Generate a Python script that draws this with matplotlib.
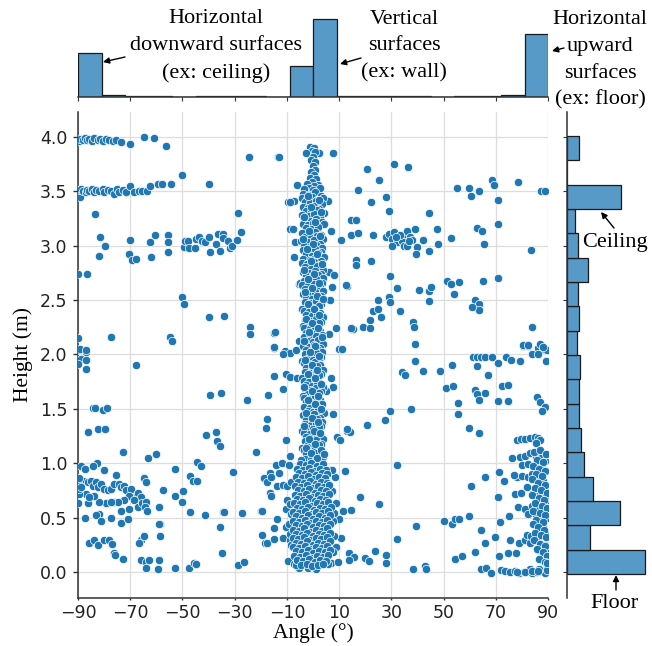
import numpy as np
import matplotlib
matplotlib.use('Agg')
import matplotlib.pyplot as plt

W, H = 652, 646
SERIF = 'Liberation Serif'
POINT_COLOR = '#1f77b4'
BAR_COLOR = '#5799c7'

# Marginal histograms, bar counts
angle_range = (-90, 90)
angle_counts = [868, 46, 20, 10, 8, 10, 12, 14, 6, 614,
                1554, 10, 12, 14, 10, 8, 10, 14, 34, 1254]
height_range = (-0.02, 4.01)
# bottom bin first
height_counts = [952, 278, 649, 315, 208, 175, 143, 147, 163,
                 122, 151, 135, 254, 135, 94, 653, 6, 151]

# Scatter points (angle in deg, height in m), grouped by region of the plot
ceiling_4m = [(-89.8, 3.96), (-89.4, 3.98), (-88.2, 3.97), (-87.5, 3.99), (-86.4, 3.97),
              (-85.6, 3.98), (-84.5, 3.96), (-83.7, 3.99), (-82.4, 3.97), (-81.5, 3.98),
              (-80.5, 3.96), (-79.2, 3.98), (-78.0, 3.97), (-76.7, 3.96), (-75.4, 3.97),
              (-73.5, 3.95), (-70.0, 3.94), (-64.9, 4.00), (-60.9, 3.99), (-56.2, 3.92)]

ceiling_35m = [(-89.7, 3.49), (-89.4, 3.45), (-89.4, 3.51), (-88.7, 3.52), (-87.9, 3.50),
               (-87.0, 3.49), (-86.4, 3.51), (-85.6, 3.50), (-84.5, 3.52), (-83.7, 3.49),
               (-83.0, 3.51), (-81.8, 3.50), (-80.5, 3.52), (-79.9, 3.49), (-78.6, 3.51),
               (-77.3, 3.50), (-76.1, 3.48), (-75.0, 3.52), (-74.2, 3.49), (-72.9, 3.51),
               (-71.6, 3.49), (-70.0, 3.55), (-68.5, 3.49), (-66.5, 3.50), (-65.3, 3.50),
               (-63.7, 3.50), (-62.4, 3.55), (-59.4, 3.57), (-57.7, 3.57), (-54.3, 3.57),
               (-50.1, 3.65), (-40.0, 3.57)]

upper_left = [(-83.4, 3.29), (-81.4, 3.08), (-81.8, 2.91), (-79.5, 3.00), (-70.0, 3.05),
              (-70.4, 2.92), (-69.5, 2.87), (-67.8, 2.88), (-62.4, 3.03), (-60.6, 3.10),
              (-62.2, 2.90), (-55.4, 3.10), (-55.4, 3.03), (-55.4, 2.94),
              (-49.5, 2.99), (-48.9, 3.04), (-48.0, 3.04), (-47.6, 2.98), (-45.1, 2.98),
              (-44.7, 3.06), (-43.8, 3.08), (-42.6, 3.04), (-41.3, 3.03), (-40.0, 3.08),
              (-39.4, 2.94), (-37.2, 3.02), (-36.5, 3.11), (-35.8, 2.95), (-34.6, 3.11),
              (-34.3, 3.07), (-32.4, 3.04), (-31.8, 2.98), (-31.0, 3.00), (-29.2, 3.05),
              (-28.6, 3.30), (-27.7, 3.13),
              (-89.9, 2.74), (-86.6, 2.74), (-50.1, 2.53), (-49.5, 2.46), (-40.0, 2.34),
              (-33.9, 2.35), (-77.3, 2.16), (-54.9, 2.16), (-53.9, 2.12), (-24.2, 2.25),
              (-24.2, 2.19), (-14.9, 2.20), (-14.9, 2.06), (-24.4, 3.82), (-13.4, 3.82),
              (-89.9, 2.15), (-89.9, 2.04), (-86.8, 2.02), (-88.7, 1.96),
              (-9.4, 3.40), (-7.1, 3.41), (-6.1, 3.56), (-8.8, 3.15), (-7.0, 3.03),
              (-7.1, 2.90), (-5.2, 2.65), (-5.4, 2.12), (-10.9, 2.03), (-9.0, 2.01),
              (-6.5, 2.04), (-13.0, 3.82), (-9.0, 3.40), (-7.5, 3.15), (-5.0, 2.66),
              (-14.5, 2.21), (-15.0, 2.07)]

mid_left = [(-89.4, 2.05), (-86.8, 2.04), (-86.8, 1.95), (-86.8, 1.87), (-89.9, 1.91),
            (-67.8, 1.90), (-84.3, 1.51), (-83.4, 1.51), (-80.3, 1.49), (-79.0, 1.51),
            (-86.2, 1.29), (-82.2, 1.31), (-79.5, 1.31), (-72.7, 1.10), (-63.2, 1.05),
            (-60.0, 1.08), (-41.0, 1.26), (-37.2, 1.29), (-36.8, 1.20), (-35.8, 1.16),
            (-39.4, 1.63), (-35.3, 1.65), (-25.4, 1.58), (-21.9, 1.10),
            (-11.4, 2.00), (-14.9, 1.80), (-10.3, 1.82), (-8.7, 1.79), (-6.2, 1.78),
            (-11.6, 1.68), (-17.2, 1.63), (-17.6, 1.41), (-18.1, 1.32), (-10.3, 1.21),
            (-9.0, 1.07), (-44.4, 1.01), (-42.8, 0.97)]

low_left = [(-88.7, 0.97), (-87.5, 0.95), (-88.1, 0.84), (-86.2, 0.83), (-84.9, 0.84),
            (-84.3, 0.79), (-83.0, 0.83), (-82.4, 0.78), (-81.1, 0.81), (-79.9, 0.76),
            (-78.6, 0.75), (-77.3, 0.76), (-76.1, 0.81), (-74.2, 0.81), (-73.5, 0.78),
            (-72.3, 0.79), (-71.6, 0.75), (-69.7, 0.76), (-67.8, 0.70), (-67.2, 0.73),
            (-65.9, 0.69), (-70.4, 0.70), (-72.3, 0.66), (-76.1, 0.64), (-79.2, 0.63),
            (-81.8, 0.64), (-83.7, 0.70), (-86.2, 0.63), (-89.9, 0.63), (-86.8, 0.72),
            (-85.6, 0.69), (-82.7, 1.00), (-84.3, 0.97), (-79.9, 0.94), (-75.4, 0.89),
            (-68.5, 0.66), (-67.2, 0.60), (-65.3, 0.63), (-64.1, 0.64), (-64.4, 0.60),
            (-63.4, 0.56), (-70.4, 0.58), (-73.5, 0.56), (-74.8, 0.64), (-77.3, 0.64),
            (-81.8, 0.53), (-83.0, 0.52), (-81.1, 0.47), (-87.5, 0.50), (-77.3, 0.50),
            (-73.5, 0.45), (-71.0, 0.49), (-64.7, 0.86), (-64.1, 0.83),
            (-89.8, 0.80), (-89.6, 0.72), (-89.5, 0.86), (-89.7, 0.76), (-88.9, 0.78),
            (-85.6, 0.27), (-83.7, 0.29), (-82.4, 0.25), (-80.1, 0.29), (-78.2, 0.29),
            (-77.1, 0.26), (-76.1, 0.17), (-75.9, 0.16), (-72.7, 0.12), (-65.9, 0.29),
            (-66.5, 0.27), (-64.9, 0.33), (-58.6, 0.33), (-58.6, 0.44), (-65.9, 0.11),
            (-64.1, 0.09), (-64.1, 0.04), (-62.8, 0.11), (-59.0, 0.11), (-59.4, 0.03),
            (-52.7, 0.04), (-47.3, 0.04), (-45.4, 0.08), (-44.7, 0.07), (-34.9, 0.17),
            (-35.6, 0.41), (-34.6, 0.55), (-34.0, 0.55), (-41.3, 0.52), (-47.2, 0.55),
            (-50.1, 0.64), (-49.9, 0.74), (-53.0, 0.70), (-53.0, 0.95), (-57.3, 0.75),
            (-59.0, 0.60), (-59.0, 0.44), (-47.2, 0.88), (-46.0, 0.84), (-44.4, 0.84),
            (-30.8, 0.92), (-27.1, 0.54), (-28.6, 0.06), (-26.5, 0.09), (-20.1, 0.56),
            (-19.4, 0.56), (-18.2, 0.27), (-19.4, 0.34),
            (-14.1, 0.98), (-16.6, 0.91), (-18.7, 0.86), (-17.8, 0.83), (-15.9, 0.87),
            (-13.0, 0.91), (-13.9, 0.79), (-11.5, 0.80), (-9.9, 0.79), (-16.6, 0.73),
            (-15.9, 0.70), (-9.9, 0.66), (-10.3, 0.58), (-8.4, 0.53), (-13.8, 0.49),
            (-17.8, 0.27), (-14.8, 0.40), (-15.0, 0.30), (-11.5, 0.31), (-9.0, 0.29),
            (-9.6, 0.10), (-7.1, 0.07), (-5.2, 0.04), (-10.3, 0.41), (-9.0, 0.35),
            (-11.9, 1.00), (-9.2, 0.98)]

upper_right = [(7.5, 3.85), (2.4, 3.85), (20.8, 3.71), (30.9, 3.75), (36.2, 3.72),
               (25.3, 3.60), (17.4, 3.51), (55.3, 3.53), (59.6, 3.53), (60.5, 3.46),
               (63.6, 3.50), (68.7, 3.60), (69.5, 3.56), (78.4, 3.59), (87.4, 3.50),
               (88.9, 3.50), (71.0, 3.42), (28.0, 3.45), (22.1, 3.40), (29.1, 3.32),
               (44.4, 3.30), (14.5, 3.24), (16.6, 3.24), (14.5, 3.10), (17.4, 3.12),
               (23.0, 3.10), (10.6, 3.05),
               (28.1, 3.08), (29.1, 3.11), (30.1, 3.06), (31.0, 3.13), (32.3, 3.03),
               (32.9, 3.09), (34.2, 3.04), (35.2, 3.11), (36.1, 3.14), (37.0, 3.08),
               (38.0, 3.05), (39.0, 3.15), (39.9, 2.99), (34.8, 3.00), (36.1, 3.00),
               (30.1, 3.00), (39.5, 2.92), (33.5, 3.10), (31.6, 3.08), (36.8, 3.04),
               (42.2, 3.05), (44.4, 2.95), (47.3, 3.15), (47.9, 3.02), (53.0, 3.07),
               (62.8, 3.16), (64.7, 3.14), (65.6, 3.02), (70.7, 3.20), (83.4, 2.96),
               (16.6, 2.87), (16.6, 2.82), (22.1, 2.86), (29.5, 2.72), (32.0, 2.61),
               (29.1, 2.53), (29.5, 2.48), (24.9, 2.50), (23.0, 2.40), (25.0, 2.42),
               (26.0, 2.34), (21.7, 2.32), (19.3, 2.25), (21.7, 2.24), (14.5, 2.23),
               (15.3, 2.23), (12.9, 2.63), (10.9, 2.04), (33.2, 2.40), (38.4, 2.30),
               (38.8, 2.25), (39.0, 2.10), (40.5, 2.59), (44.4, 2.58), (45.0, 2.62),
               (44.6, 2.49), (51.3, 2.68), (53.0, 2.65), (55.8, 2.67), (53.9, 2.56),
               (65.1, 2.68), (70.8, 2.70), (62.2, 2.50), (63.4, 2.46), (63.6, 2.41),
               (60.8, 2.44), (83.8, 2.25), (80.6, 2.08), (82.3, 2.08), (86.3, 2.06),
               (88.2, 2.05), (89.5, 2.04),
               (5.6, 3.41), (6.9, 3.14), (6.3, 2.76), (8.1, 2.73), (12.8, 2.64),
               (7.3, 2.62), (6.6, 2.50), (14.6, 2.24), (8.8, 2.24), (6.3, 2.19), (10.0, 2.05)]

low_right = [(11.0, 2.05), (7.5, 1.70), (7.5, 1.45), (9.0, 1.24), (10.3, 1.21), (13.2, 1.30),
             (14.1, 1.29), (12.3, 0.93), (8.5, 0.87), (18.0, 0.69), (25.3, 0.62), (11.3, 0.56),
             (14.5, 0.57), (10.6, 0.31), (13.8, 0.17), (15.7, 0.14), (13.6, 0.11), (19.8, 0.13),
             (21.5, 0.10), (23.7, 0.19), (28.1, 0.16), (28.1, 0.08), (32.0, 0.30), (32.0, 0.98),
             (20.6, 1.35), (27.6, 1.40), (29.5, 1.48), (37.5, 1.50), (39.5, 0.42), (38.4, 0.03),
             (42.8, 0.05), (43.4, 0.03), (7.3, 0.94), (8.8, 0.63), (10.0, 0.49), (8.1, 0.54),
             (8.8, 0.23), (6.9, 0.08), (9.4, 0.09), (13.1, 1.31), (5.0, 1.66), (6.9, 1.78),
             (33.9, 1.84), (35.4, 1.81), (39.0, 1.94), (42.2, 1.85), (48.5, 1.85), (53.3, 1.90),
             (51.1, 1.69), (53.6, 1.71), (55.5, 1.55), (55.5, 1.45), (59.6, 1.32), (63.4, 1.28),
             (61.1, 1.98), (62.8, 1.98), (64.5, 1.98), (65.8, 1.98), (68.5, 1.98), (62.8, 1.89),
             (67.0, 1.81), (62.2, 1.67), (62.8, 1.64), (63.7, 1.58), (66.0, 1.65), (70.8, 1.92),
             (70.8, 1.57), (74.6, 1.57), (72.3, 1.71), (74.6, 1.72), (73.9, 1.98), (75.9, 1.95),
             (79.3, 1.94), (80.6, 2.09), (82.5, 2.09), (83.8, 2.00), (86.3, 2.00), (86.9, 2.10),
             (88.2, 2.07), (89.1, 1.94), (85.7, 1.61), (87.0, 1.56), (88.9, 1.52), (87.6, 1.48),
             (78.1, 1.21), (79.7, 1.22), (81.2, 1.22), (83.2, 1.23), (85.1, 1.24), (86.3, 1.23),
             (87.0, 1.21), (85.3, 1.19),
             (76.2, 1.05), (79.3, 1.06), (81.2, 1.07), (83.2, 1.09), (85.3, 1.06), (87.4, 1.05),
             (88.9, 1.02), (80.0, 0.98), (82.5, 0.99), (85.1, 0.98), (87.6, 0.96), (89.1, 0.93),
             (78.1, 0.87), (80.2, 0.88), (82.3, 0.87), (83.8, 0.90), (86.1, 0.87), (88.2, 0.84),
             (89.5, 0.78), (77.4, 0.72), (79.7, 0.73), (81.9, 0.78), (83.8, 0.72), (86.3, 0.70),
             (88.9, 0.70), (78.7, 0.60), (81.2, 0.58), (83.8, 0.61), (86.3, 0.58), (88.2, 0.56),
             (89.5, 0.66), (82.5, 0.53), (85.3, 0.52), (87.6, 0.50), (89.5, 0.50), (66.0, 0.87),
             (71.3, 0.92), (73.0, 0.84), (76.8, 0.89),
             (60.6, 0.79), (70.7, 0.69), (50.1, 0.47), (53.3, 0.44), (54.5, 0.49), (55.8, 0.49),
             (59.6, 0.51), (64.3, 0.39), (71.7, 0.46), (74.9, 0.51), (54.5, 0.12), (57.0, 0.15),
             (61.9, 0.18), (66.0, 0.27), (69.8, 0.32), (71.3, 0.15), (74.6, 0.17), (77.7, 0.17),
             (75.5, 0.29), (79.0, 0.27), (81.0, 0.29), (83.2, 0.27), (85.7, 0.29), (81.9, 0.34),
             (83.6, 0.33), (86.1, 0.41), (88.2, 0.42), (86.3, 0.20), (88.9, 0.17), (89.5, 0.21),
             (64.5, 0.03), (66.4, 0.04), (68.3, -0.01), (72.1, 0.02), (88.8, 0.25), (89.5, 0.35)]

floor_edge = [(84.5, 1.10), (86.8, 1.12), (89.2, 1.08), (85.6, 1.03), (88.0, 1.01), (84.2, 0.97),
              (86.6, 0.95), (89.0, 0.93), (85.4, 0.90), (87.8, 0.88), (83.8, 0.85), (86.2, 0.82),
              (88.7, 0.80), (85.0, 0.77), (87.4, 0.75), (89.6, 0.73), (84.0, 0.71), (86.4, 0.68),
              (88.6, 0.66), (85.2, 0.63), (87.6, 0.61), (89.5, 0.59), (84.4, 0.56), (86.8, 0.54),
              (88.9, 0.52), (85.5, 0.48), (87.9, 0.46), (84.1, 0.44), (86.3, 0.41), (88.5, 0.39),
              (85.1, 0.36), (87.3, 0.34), (89.4, 0.32), (84.6, 0.29), (86.9, 0.26), (89.0, 0.24),
              (85.7, 0.21), (88.1, 0.18), (89.6, 0.15), (86.6, 0.12), (88.8, 0.09), (89.5, 0.05),
              (73.5, 0.01), (75.5, 0.00), (77.4, 0.01), (79.0, -0.01), (80.7, 0.00), (82.5, 0.01),
              (84.0, -0.01), (85.6, 0.00), (87.2, 0.01), (88.8, -0.01), (89.8, 0.02), (86.4, 0.03),
              (83.2, 0.03), (89.6, 0.08), (78.1, 0.00), (81.2, 0.00), (83.8, 0.01), (86.3, 0.01)]

column_top = [(-1.2, 3.91), (0.3, 3.90), (-0.4, 3.87), (0.9, 3.86), (-2.6, 3.85), (0.1, 3.82),
              (-0.8, 3.79), (0.6, 3.77), (-0.1, 3.73), (0.8, 3.70), (-0.6, 3.68), (0.2, 3.65),
              (-1.1, 3.62), (1.0, 3.61), (-0.2, 3.59), (-2.3, 3.57), (1.8, 3.56), (0.5, 3.55),
              (-1.4, 3.53), (2.6, 3.53), (-3.3, 3.52), (0.0, 3.51)]

column_upper = [(-3.8, 3.48), (-1.5, 3.47), (0.6, 3.49), (2.9, 3.46),
                (-4.4, 3.44), (-2.4, 3.43), (-0.3, 3.45), (1.7, 3.42), (3.9, 3.44),
                (-3.2, 3.40), (-1.0, 3.39), (1.1, 3.41), (3.3, 3.38),
                (-4.0, 3.36), (-1.9, 3.35), (0.2, 3.37), (2.4, 3.34),
                (-2.8, 3.32), (-0.6, 3.31), (1.6, 3.33), (4.1, 3.30),
                (-4.3, 3.28), (-1.7, 3.27), (0.5, 3.29), (2.8, 3.26),
                (-3.0, 3.24), (-0.9, 3.23), (1.3, 3.25), (3.5, 3.22),
                (-3.9, 3.20), (-2.0, 3.19), (0.1, 3.21), (2.2, 3.18), (4.3, 3.20),
                (-2.6, 3.16), (-0.4, 3.15), (1.8, 3.17),
                (-4.2, 3.12), (-1.4, 3.11), (0.8, 3.13), (3.0, 3.10),
                (-3.1, 3.08), (-0.8, 3.07), (1.5, 3.09), (3.8, 3.06),
                (-4.6, 3.04), (-2.1, 3.03), (0.3, 3.05), (2.5, 3.02),
                (-3.3, 3.00), (-1.0, 2.99), (1.2, 3.01), (3.6, 2.98),
                (-4.0, 2.96), (-1.8, 2.95), (0.6, 2.97), (2.9, 2.94),
                (-2.7, 2.92), (-0.3, 2.91), (1.9, 2.93), (4.2, 2.90),
                (-3.7, 2.88), (-1.3, 2.87), (0.9, 2.89), (3.1, 2.86),
                (-4.4, 2.84), (-2.2, 2.83), (0.2, 2.85), (2.4, 2.82),
                (-3.0, 2.80), (-0.7, 2.79), (1.6, 2.81), (3.8, 2.78),
                (-3.8, 2.76), (-1.5, 2.75), (0.7, 2.77), (2.9, 2.74),
                (-2.5, 2.72), (-0.2, 2.71), (2.0, 2.73), (4.0, 2.70),
                (-3.5, 2.68), (-1.1, 2.67), (1.2, 2.69), (3.3, 2.66),
                (-4.2, 2.64), (-2.0, 2.63), (0.4, 2.65), (2.6, 2.62),
                (-3.0, 2.60), (-0.7, 2.59), (1.5, 2.61), (3.7, 2.58),
                (-3.8, 2.56), (-1.6, 2.55), (0.9, 2.57), (2.9, 2.54),
                (-2.6, 2.52), (-0.2, 2.51), (2.1, 2.53)]

column_middle = [(-3.2, 2.48), (-1.0, 2.47), (1.1, 2.49), (3.2, 2.46),
                 (-2.2, 2.44), (0.0, 2.43), (2.2, 2.45), (-4.1, 2.42),
                 (-3.6, 2.40), (-1.4, 2.39), (0.6, 2.41), (2.7, 2.38),
                 (-2.6, 2.36), (-0.4, 2.35), (1.7, 2.37), (3.7, 2.34),
                 (-3.1, 2.32), (-0.9, 2.31), (1.2, 2.33), (3.1, 2.30),
                 (-2.3, 2.28), (0.1, 2.27), (2.3, 2.29), (-4.0, 2.26),
                 (-3.5, 2.24), (-1.3, 2.23), (0.7, 2.25), (2.8, 2.22),
                 (-2.5, 2.20), (-0.5, 2.19), (1.6, 2.21), (3.6, 2.18),
                 (-3.3, 2.16), (-1.0, 2.15), (1.0, 2.17), (3.0, 2.14),
                 (-2.1, 2.12), (0.0, 2.11), (2.1, 2.13), (4.0, 2.10),
                 (-3.7, 2.08), (-1.5, 2.07), (0.5, 2.09), (2.6, 2.06),
                 (-2.7, 2.04), (-0.5, 2.03), (1.6, 2.05), (3.5, 2.02),
                 (-3.0, 2.00), (-0.9, 1.99), (1.2, 2.01), (3.2, 1.98),
                 (-2.2, 1.96), (0.1, 1.95), (2.2, 1.97), (-4.1, 1.94),
                 (-3.5, 1.92), (-1.3, 1.91), (0.7, 1.93), (2.8, 1.90),
                 (-2.5, 1.88), (-0.4, 1.87), (1.7, 1.89), (3.8, 1.86),
                 (-3.2, 1.84), (-1.1, 1.83), (1.0, 1.85), (3.1, 1.82),
                 (-2.2, 1.80), (0.0, 1.79), (2.2, 1.81), (-4.2, 1.78),
                 (-3.6, 1.76), (-1.4, 1.75), (0.6, 1.77), (2.7, 1.74),
                 (-2.6, 1.72), (-0.4, 1.71), (1.7, 1.73), (3.7, 1.70),
                 (-3.1, 1.68), (-0.9, 1.67), (1.2, 1.69), (3.2, 1.66),
                 (-2.3, 1.64), (0.1, 1.63), (2.3, 1.65), (-4.0, 1.62),
                 (-3.5, 1.60), (-1.3, 1.59), (0.7, 1.61), (2.8, 1.58),
                 (-2.5, 1.56), (-0.5, 1.55), (1.6, 1.57), (3.6, 1.54),
                 (-3.3, 1.52), (-1.0, 1.51), (1.0, 1.53), (3.0, 1.50),
                 (-2.1, 1.48), (0.0, 1.47), (2.1, 1.49), (4.1, 1.46),
                 (-3.7, 1.44), (-1.5, 1.43), (0.5, 1.45), (2.6, 1.42),
                 (-2.7, 1.40), (-0.5, 1.39), (1.6, 1.41), (3.5, 1.38),
                 (-3.0, 1.36), (-0.9, 1.35), (1.2, 1.37), (3.2, 1.34),
                 (-2.2, 1.32), (0.1, 1.31), (2.2, 1.33), (-4.3, 1.30),
                 (-3.6, 1.28), (-1.3, 1.27), (0.7, 1.29), (2.8, 1.26),
                 (-2.5, 1.24), (-0.4, 1.23), (1.7, 1.25), (3.9, 1.22),
                 (-3.2, 1.20), (-1.1, 1.19), (1.0, 1.21), (3.1, 1.18),
                 (-2.2, 1.16), (0.0, 1.15), (2.2, 1.17), (-4.4, 1.14),
                 (-3.6, 1.12), (-1.4, 1.11), (0.6, 1.13), (2.7, 1.10),
                 (-2.6, 1.08), (-0.4, 1.07), (1.7, 1.09), (3.7, 1.06),
                 (-3.1, 1.04), (-0.9, 1.03), (1.2, 1.05), (3.3, 1.02)]

column_fill = [(-2.0, 3.46), (2.3, 3.42), (-0.8, 3.36), (3.1, 3.31), (-3.6, 3.26), (0.9, 3.22),
               (-1.6, 3.14), (2.6, 3.09), (-3.9, 3.06), (0.0, 3.02), (-2.3, 2.97), (1.7, 2.92),
               (-0.9, 2.86), (3.4, 2.83), (-3.4, 2.78), (0.4, 2.74), (-1.9, 2.69), (2.3, 2.66),
               (-0.4, 2.61), (-2.9, 2.57), (1.4, 2.54), (3.9, 2.51), (-1.8, 2.46), (0.4, 2.42),
               (2.4, 2.36), (-2.8, 2.33), (-0.2, 2.29), (1.9, 2.24), (-1.5, 2.21), (3.3, 2.16),
               (-3.4, 2.12), (0.6, 2.08), (-1.2, 2.02), (2.4, 1.99), (-3.0, 1.95), (-0.2, 1.90),
               (1.6, 1.86), (-2.1, 1.82), (0.7, 1.78), (3.0, 1.73), (-3.5, 1.70), (-0.3, 1.66),
               (1.8, 1.62), (-1.8, 1.58), (0.8, 1.54), (2.9, 1.50), (-2.6, 1.46), (-0.4, 1.42),
               (1.9, 1.38), (-3.5, 1.34), (0.4, 1.30), (2.6, 1.28), (-1.6, 1.22), (0.9, 1.18),
               (-2.8, 1.14), (3.1, 1.12), (-0.6, 1.09), (1.4, 1.05), (-4.6, 1.03), (4.4, 1.08),
               (-8.8, 0.62), (-9.2, 0.44), (7.8, 0.47), (8.2, 0.33), (-8.6, 0.25), (7.6, 0.18),
               (-8.3, 0.83), (7.1, 0.74), (-2.0, 0.04), (1.0, 0.03), (-6.4, 0.06), (5.6, 0.07)]

column_bottom = [(-5.0, 0.99), (-2.8, 0.98), (-0.6, 1.00), (1.5, 0.97), (3.7, 0.99),
                 (-6.0, 0.95), (-3.9, 0.94), (-1.7, 0.96), (0.4, 0.93), (2.6, 0.95), (4.8, 0.94),
                 (-5.3, 0.91), (-3.1, 0.90), (-0.9, 0.92), (1.3, 0.89), (3.4, 0.91), (5.4, 0.90),
                 (-6.4, 0.87), (-4.2, 0.86), (-2.0, 0.88), (0.2, 0.85), (2.4, 0.87), (4.5, 0.86),
                 (-5.6, 0.83), (-3.4, 0.82), (-1.2, 0.84), (1.0, 0.81), (3.1, 0.83), (5.3, 0.82),
                 (-6.8, 0.79), (-4.5, 0.78), (-2.3, 0.80), (-0.1, 0.77), (2.1, 0.79), (4.2, 0.78), (6.2, 0.80),
                 (-5.8, 0.75), (-3.6, 0.74), (-1.4, 0.76), (0.8, 0.73), (3.0, 0.75), (5.1, 0.74),
                 (-7.0, 0.71), (-4.8, 0.70), (-2.6, 0.72), (-0.4, 0.69), (1.8, 0.71), (4.0, 0.70), (6.1, 0.72),
                 (-6.0, 0.67), (-3.8, 0.66), (-1.6, 0.68), (0.6, 0.65), (2.8, 0.67), (4.9, 0.66),
                 (-7.3, 0.63), (-5.1, 0.62), (-2.9, 0.64), (-0.7, 0.61), (1.5, 0.63), (3.7, 0.62), (5.8, 0.64),
                 (-6.3, 0.59), (-4.1, 0.58), (-1.9, 0.60), (0.3, 0.57), (2.5, 0.59), (4.7, 0.58), (6.8, 0.60),
                 (-7.5, 0.55), (-5.3, 0.54), (-3.1, 0.56), (-0.9, 0.53), (1.3, 0.55), (3.5, 0.54), (5.6, 0.56),
                 (-6.5, 0.51), (-4.3, 0.50), (-2.1, 0.52), (0.1, 0.49), (2.3, 0.51), (4.5, 0.50), (6.6, 0.52),
                 (-7.6, 0.47), (-5.4, 0.46), (-3.2, 0.48), (-1.0, 0.45), (1.2, 0.47), (3.4, 0.46), (5.5, 0.48),
                 (-6.6, 0.43), (-4.4, 0.42), (-2.2, 0.44), (0.0, 0.41), (2.2, 0.43), (4.4, 0.42), (6.5, 0.44),
                 (-7.7, 0.39), (-5.5, 0.38), (-3.3, 0.40), (-1.1, 0.37), (1.1, 0.39), (3.3, 0.38), (5.4, 0.40),
                 (-6.6, 0.35), (-4.4, 0.34), (-2.2, 0.36), (0.0, 0.33), (2.2, 0.35), (4.4, 0.34), (6.6, 0.36),
                 (-7.8, 0.31), (-5.6, 0.30), (-3.4, 0.32), (-1.2, 0.29), (1.0, 0.31), (3.2, 0.30), (5.3, 0.32),
                 (-6.7, 0.27), (-4.5, 0.26), (-2.3, 0.28), (-0.1, 0.25), (2.1, 0.27), (4.3, 0.26), (6.4, 0.28),
                 (-7.6, 0.23), (-5.4, 0.22), (-3.2, 0.24), (-1.0, 0.21), (1.2, 0.23), (3.4, 0.22), (5.5, 0.24),
                 (-6.5, 0.19), (-4.3, 0.18), (-2.1, 0.20), (0.1, 0.17), (2.3, 0.19), (4.5, 0.18), (6.7, 0.20),
                 (-7.2, 0.15), (-5.0, 0.14), (-2.8, 0.16), (-0.6, 0.13), (1.6, 0.15), (3.8, 0.14), (5.9, 0.16),
                 (-6.0, 0.11), (-3.8, 0.10), (-1.6, 0.12), (0.6, 0.09), (2.8, 0.11), (4.9, 0.10),
                 (-4.6, 0.06), (-2.4, 0.07), (-0.2, 0.05), (2.0, 0.06), (3.9, 0.07)]


def px_rect(left, top, right, bottom):
    """Axes rectangle from pixel edges measured from the top-left corner."""
    return [left / W, 1 - bottom / H, (right - left) / W, (bottom - top) / H]


def fxy(x, y):
    return (x / W, 1 - y / H)


points = np.array(ceiling_4m + ceiling_35m + upper_left + mid_left + low_left
                  + upper_right + low_right + floor_edge
                  + column_top + column_upper + column_middle + column_fill + column_bottom)
angle = points[:, 0]
height = points[:, 1]

fig = plt.figure(figsize=(W / 100, H / 100), dpi=100)
ax = fig.add_axes(px_rect(78, 112, 548, 598))
ax_top = fig.add_axes(px_rect(78, 15, 548, 97))
ax_right = fig.add_axes(px_rect(567, 112, 649, 598))

# --- joint scatter ---
ax.scatter(angle, height, s=36, color=POINT_COLOR, edgecolor='white', linewidth=0.5, zorder=3)
ax.set_xlim(-90, 90)
ax.set_ylim(-0.24, 4.23)
ax.set_xticks(np.arange(-90, 91, 20))
ax.set_yticks(np.arange(0, 4.01, 0.5))
ax.set_yticklabels([f'{v:.1f}' for v in np.arange(0, 4.01, 0.5)])
ax.grid(True, color='#dddddd', linewidth=0.9)
ax.set_axisbelow(True)
for side in ['top', 'right']:
    ax.spines[side].set_visible(False)
for side in ['left', 'bottom']:
    ax.spines[side].set_color('#333333')
    ax.spines[side].set_linewidth(1.1)
ax.tick_params(labelsize=12.5, width=1, color='#333333', labelcolor='#222222')
ax.tick_params(axis='y', length=3.5, pad=4)
ax.tick_params(axis='x', length=1.5, pad=2.5)
ax.set_xlabel('Angle (°)', fontsize=15.5, family=SERIF, labelpad=1)
ax.set_ylabel('Height (m)', fontsize=15.5, family=SERIF, labelpad=5)

# --- marginal histograms ---
angle_edges = np.linspace(angle_range[0], angle_range[1], len(angle_counts) + 1)
ax_top.bar(angle_edges[:-1], angle_counts, width=np.diff(angle_edges), align='edge',
           color=BAR_COLOR, edgecolor='#1a1a1a', linewidth=0.9)
ax_top.set_xlim(-90, 90)
ax_top.set_ylim(0, max(angle_counts) * 1.05)
ax_top.set_xticks(np.arange(-90, 91, 20))
ax_top.tick_params(axis='x', labelbottom=False, length=3, color='#333333')
ax_top.set_yticks([])

height_edges = np.linspace(height_range[0], height_range[1], len(height_counts) + 1)
ax_right.barh(height_edges[:-1], height_counts, height=np.diff(height_edges), align='edge',
              color=BAR_COLOR, edgecolor='#1a1a1a', linewidth=0.9)
ax_right.set_ylim(-0.24, 4.23)
ax_right.set_xlim(0, max(height_counts) * 1.05)
ax_right.set_yticks(np.arange(0, 4.01, 0.5))
ax_right.tick_params(axis='y', labelleft=False, length=3, color='#333333')
ax_right.set_xticks([])

for a, keep in [(ax_top, 'bottom'), (ax_right, 'left')]:
    for side in ['top', 'right', 'left', 'bottom']:
        a.spines[side].set_visible(side == keep)
    a.spines[keep].set_color('#333333')
    a.spines[keep].set_linewidth(1.1)
    a.set_facecolor('none')

# --- annotations ---
text_kw = dict(ha='center', va='center', fontsize=16, family=SERIF, linespacing=1.55)
fig.text(*fxy(216, 46), 'Horizontal\ndownward surfaces\n(ex: ceiling)', **text_kw)
fig.text(*fxy(404, 46), 'Vertical\nsurfaces\n(ex: wall)', **text_kw)
fig.text(*fxy(600, 60), 'Horizontal\nupward\nsurfaces\n(ex: floor)', **text_kw)
fig.text(*fxy(615, 242), 'Ceiling', **text_kw)
fig.text(*fxy(614, 604), 'Floor', **text_kw)

arrow_kw = dict(arrowstyle='-|>', color='black', lw=1, mutation_scale=9, shrinkA=0, shrinkB=0)
arrows = [((125, 57), (103, 62)), ((361, 58), (340, 64)), ((564, 48), (552, 51)),
          ((614, 228), (601, 212)), ((616, 590), (616, 575))]
for tail, tip in arrows:
    fig.add_artist(matplotlib.patches.FancyArrowPatch(fxy(*tail), fxy(*tip), transform=fig.transFigure,
                                                      **arrow_kw))

fig.savefig('out.png', dpi=100)
